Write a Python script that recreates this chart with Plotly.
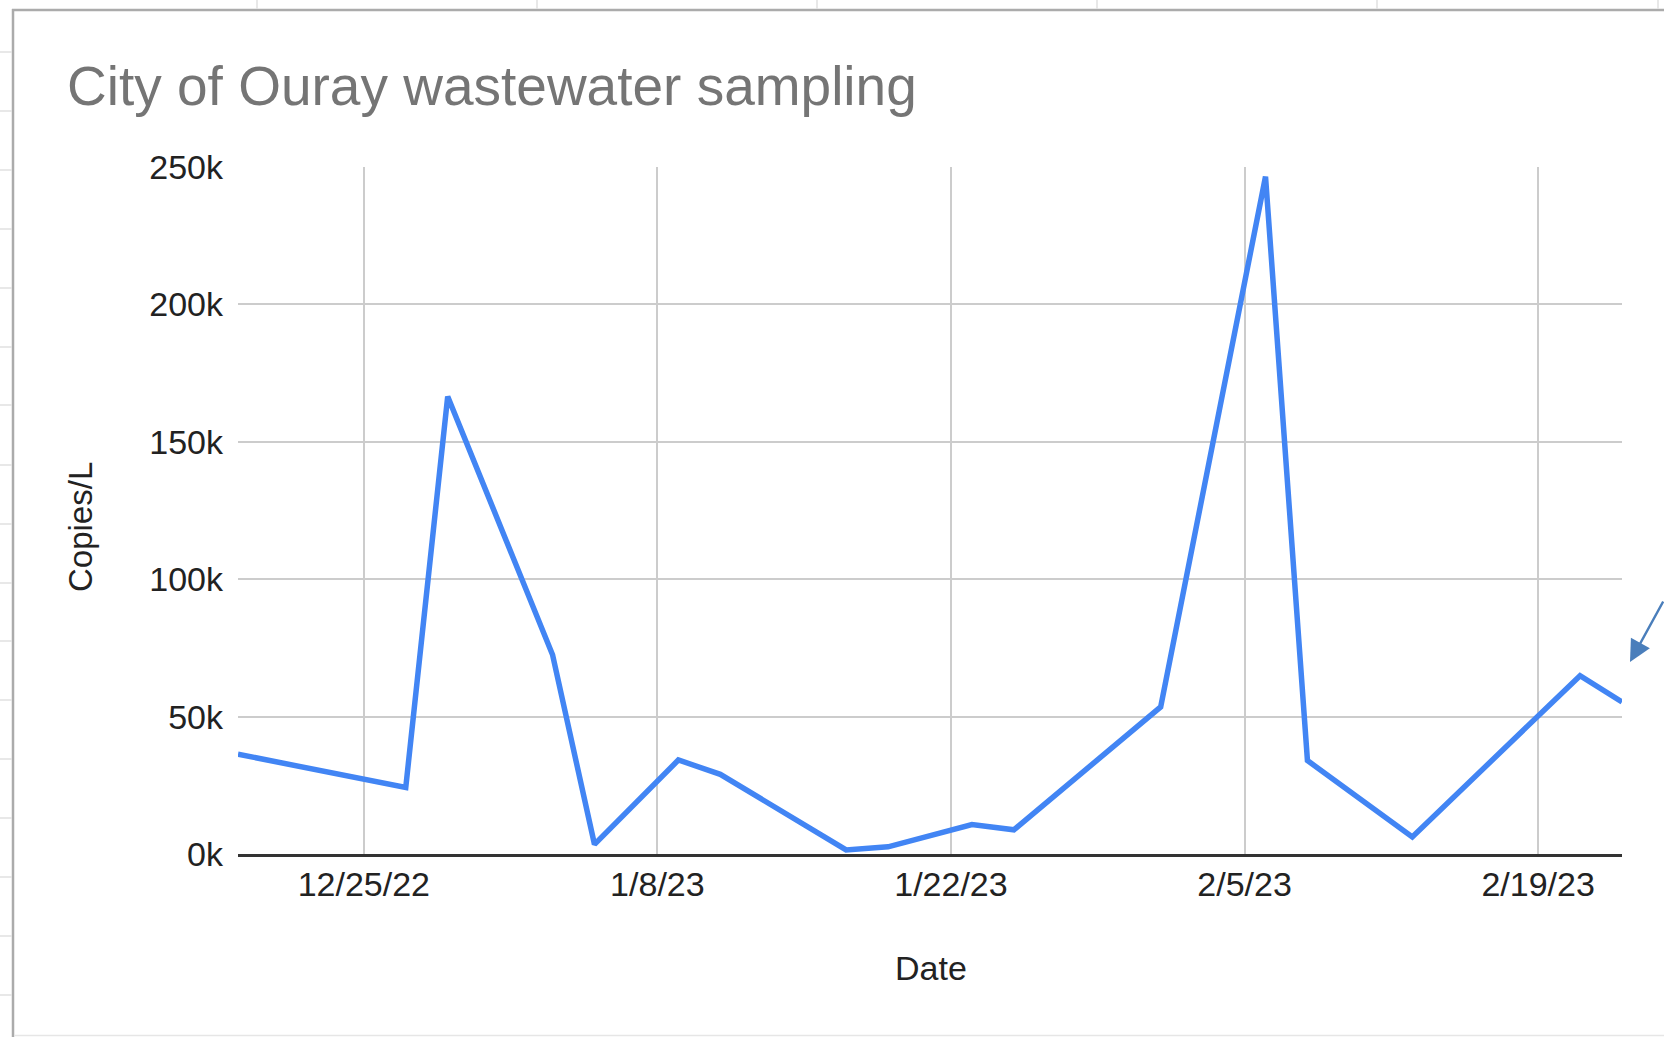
import plotly.graph_objects as go

# ---- data ----
dates = ["2022-12-19", "2022-12-27", "2022-12-29", "2023-01-03", "2023-01-05",
         "2023-01-09", "2023-01-11", "2023-01-17", "2023-01-19", "2023-01-23",
         "2023-01-25", "2023-02-01", "2023-02-06", "2023-02-08", "2023-02-13",
         "2023-02-21", "2023-02-23"]
copies_per_l = [36300, 24200, 166500, 72500, 3500,
                34200, 29000, 1500, 2600, 10700,
                8800, 53500, 246500, 34000, 6200,
                64900, 55300]
x_tick_vals = ["2022-12-25", "2023-01-08", "2023-01-22", "2023-02-05", "2023-02-19"]
x_tick_text = ["12/25/22", "1/8/23", "1/22/23", "2/5/23", "2/19/23"]
y_tick_vals = [0, 50000, 100000, 150000, 200000, 250000]
y_tick_text = ["0k", "50k", "100k", "150k", "200k", "250k"]

# ---- layout geometry (pixels) ----
W, H = 1664, 1037
PL, PR, PT, PB = 238, 1622, 167, 854


def px(x):
    return (x - PL) / (PR - PL)


def py(y):
    return (PB - y) / (PB - PT)


FONT = "Liberation Sans, Arial, sans-serif"

fig = go.Figure()
fig.add_trace(go.Scatter(
    x=dates, y=copies_per_l, mode="lines",
    line=dict(color="#4285F4", width=5.5),
    showlegend=False,
))

shapes = []
# chart box border (left + top)
shapes.append(dict(type="line", xref="paper", yref="paper",
                   x0=px(13), x1=px(13), y0=py(9), y1=py(1040),
                   line=dict(color="#ababab", width=2.5)))
shapes.append(dict(type="line", xref="paper", yref="paper",
                   x0=px(12), x1=px(1670), y0=py(10), y1=py(10),
                   line=dict(color="#ababab", width=2.5)))
# faint bottom line
shapes.append(dict(type="line", xref="paper", yref="paper",
                   x0=px(14), x1=px(1670), y0=py(1035.5), y1=py(1035.5),
                   line=dict(color="#e6e6e6", width=1.5)))
# spreadsheet cell lines peeking out around the chart box
cell_cols = [257, 537, 817, 1097, 1377, 1658]
cell_rows = [52, 111, 170, 229, 288, 347, 405, 465, 524, 583, 641, 700, 759, 818, 877, 936, 995]
for cx in cell_cols:
    shapes.append(dict(type="line", xref="paper", yref="paper",
                       x0=px(cx), x1=px(cx), y0=py(0), y1=py(9),
                       line=dict(color="#e0e0e0", width=1.5)))
for ry in cell_rows:
    shapes.append(dict(type="line", xref="paper", yref="paper",
                       x0=px(0), x1=px(12), y0=py(ry), y1=py(ry),
                       line=dict(color="#e0e0e0", width=1.5)))

annotations = [
    dict(text="Date", xref="paper", yref="paper", x=px(931), y=py(968),
         xanchor="center", yanchor="middle", showarrow=False,
         font=dict(family=FONT, size=34, color="#222222")),
    dict(text="Copies/L", xref="paper", yref="paper", x=px(80), y=py(527),
         xanchor="center", yanchor="middle", showarrow=False, textangle=-90,
         font=dict(family=FONT, size=33, color="#222222")),
    # blue callout arrow at the right edge
    dict(text="", xref="paper", yref="paper", x=px(1630), y=py(662),
         ax=36, ay=-62, showarrow=True, arrowhead=2, arrowsize=1.8,
         arrowwidth=2.4, arrowcolor="#4a7ebb"),
]

fig.update_layout(
    width=W, height=H,
    margin=dict(l=PL, r=W - PR, t=PT, b=H - PB, pad=0),
    paper_bgcolor="white", plot_bgcolor="white",
    title=dict(text="City of Ouray wastewater sampling",
               xref="container", yref="container",
               x=67 / W, xanchor="left", y=1 - 86 / H, yanchor="middle",
               font=dict(family=FONT, size=55, color="#757575")),
    font=dict(family=FONT, size=34, color="#222222"),
    xaxis=dict(type="date", range=["2022-12-19", "2023-02-23"],
               tickmode="array", tickvals=x_tick_vals, ticktext=x_tick_text,
               showgrid=True, gridcolor="#cccccc", gridwidth=2,
               showline=True, linecolor="#333333", linewidth=2.5,
               zeroline=False, ticks="", ticklabelstandoff=-2,
               tickfont=dict(family=FONT, size=34, color="#222222")),
    yaxis=dict(range=[0, 250000], tickmode="array",
               tickvals=y_tick_vals, ticktext=y_tick_text,
               showgrid=True, gridcolor="#cccccc", gridwidth=2,
               zeroline=False, showline=False, ticks="", ticklabelstandoff=14,
               tickfont=dict(family=FONT, size=34, color="#222222")),
    shapes=shapes,
    annotations=annotations,
)

fig.write_html("out.html", config={"displayModeBar": False},
               post_script="document.body.style.margin='0px';document.body.style.overflow='hidden';")
